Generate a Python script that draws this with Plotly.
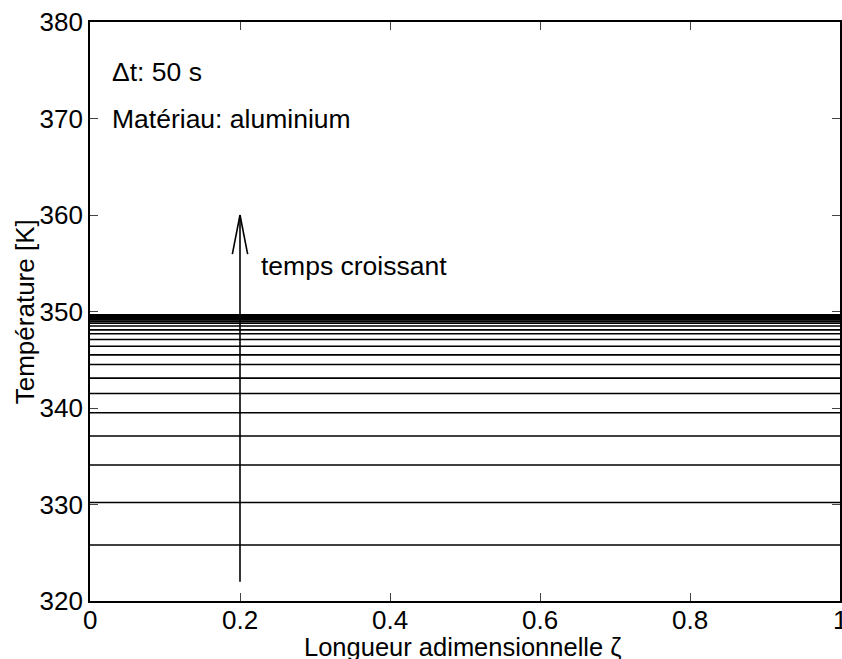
import plotly.graph_objects as go

# Temperature profiles (K), one per time step (dt = 50 s), uniform along zeta
zeta = [0.0, 1.0]
temperatures = [325.8, 330.2, 334.1, 337.1, 339.5, 341.5, 343.1, 344.5, 345.5,
                346.4, 347.1, 347.7, 348.1, 348.5, 348.8, 349.0, 349.15, 349.3,
                349.4, 349.5, 349.55, 349.6, 349.65]

x_ticks = [0, 0.2, 0.4, 0.6, 0.8, 1]
x_ticklabels = ["0", "0.2", "0.4", "0.6", "0.8", "1"]
y_ticks = [320, 330, 340, 350, 360, 370, 380]
y_ticklabels = ["320", "330", "340", "350", "360", "370", "380"]

FONT = "Liberation Sans, Arial, Helvetica, sans-serif"

fig = go.Figure()
for T in temperatures:
    fig.add_trace(go.Scatter(x=zeta, y=[T, T], mode="lines",
                             line=dict(color="black", width=1.6),
                             showlegend=False, hoverinfo="skip"))

# Arrow "temps croissant"
ax_x, y0, y1 = 0.2, 322.0, 360.0
head_dx, head_dy = 0.0102, 4.05
fig.add_shape(type="line", x0=ax_x, x1=ax_x, y0=y0, y1=y1,
              line=dict(color="black", width=1.6))
fig.add_shape(type="line", x0=ax_x - head_dx, x1=ax_x, y0=y1 - head_dy, y1=y1,
              line=dict(color="black", width=1.6))
fig.add_shape(type="line", x0=ax_x + head_dx, x1=ax_x, y0=y1 - head_dy, y1=y1,
              line=dict(color="black", width=1.6))

texts = [
    ("Δt: 50 s", 0.026, 374.8),
    ("Matériau: aluminium", 0.026, 369.9),
    ("temps croissant", 0.225, 354.75),
]
for t, x, y in texts:
    fig.add_annotation(x=x, y=y, text=t, showarrow=False, xanchor="left",
                       yanchor="middle", font=dict(family=FONT, size=26.5, color="black"))

# x tick labels, set close under the axis as in the original
for xv, lab in zip(x_ticks, x_ticklabels):
    fig.add_annotation(x=xv, y=-0.033, xref="x", yref="paper", text=lab,
                       showarrow=False, xanchor="center", yanchor="middle",
                       font=dict(family=FONT, size=26, color="black"))

# Axis titles
fig.add_annotation(x=0.497, y=-0.079, xref="paper", yref="paper",
                   text="Longueur adimensionnelle ζ", showarrow=False,
                   xanchor="center", yanchor="middle",
                   font=dict(family=FONT, size=25.5, color="black"))
fig.add_annotation(x=-0.087, y=0.5, xref="paper", yref="paper",
                   text="Température [K]", showarrow=False, textangle=-90,
                   xanchor="center", yanchor="middle",
                   font=dict(family=FONT, size=26, color="black"))

fig.update_layout(
    width=842, height=659,
    margin=dict(l=90, r=2, t=22, b=58),
    paper_bgcolor="white", plot_bgcolor="white",
    font=dict(family=FONT, size=26, color="black"),
)
fig.update_xaxes(range=[0, 1], tickvals=x_ticks, showticklabels=False,
                 ticks="inside", ticklen=8, tickwidth=1.2, mirror="allticks",
                 showline=True, linecolor="black", linewidth=1.6, showgrid=False,
                 zeroline=False, automargin=False)
fig.update_yaxes(range=[320, 380], tickvals=y_ticks, ticktext=y_ticklabels,
                 ticks="inside", ticklen=8, tickwidth=1.2, mirror="allticks",
                 showline=True, linecolor="black", linewidth=1.6, showgrid=False,
                 zeroline=False, automargin=False)

fig.write_html("out.html",
               config={"displayModeBar": False},
               post_script="document.body.style.margin='0';"
                           "document.body.style.overflow='hidden';")
